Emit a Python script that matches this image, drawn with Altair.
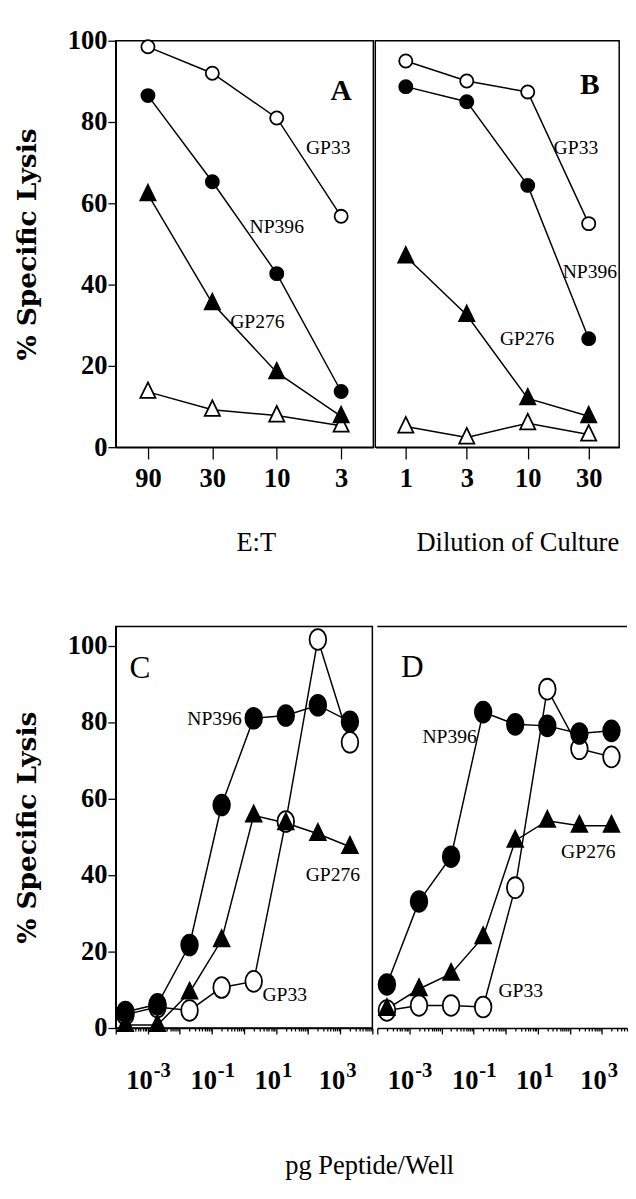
import json
import altair as alt
import pandas as pd

# ---------------- Data ----------------
# Panel A: % specific lysis vs E:T ratio
et_labels = ["90", "30", "10", "3"]
a_gp33 = [98.5, 92.0, 81.0, 56.8]
a_np396 = [86.5, 65.3, 42.7, 13.7]
a_gp276 = [62.2, 35.4, 18.4, 7.6]
a_control = [13.6, 9.2, 7.8, 5.3]

# Panel B: % specific lysis vs dilution of culture
dilution_labels = ["1", "3", "10", "30"]
b_gp33 = [95.0, 90.1, 87.4, 55.0]
b_np396 = [88.7, 85.0, 64.4, 26.7]
b_gp276 = [46.9, 32.5, 12.0, 7.6]
b_control = [5.1, 2.4, 5.9, 3.1]

# Panels C and D: % specific lysis vs pg peptide / well
pg_per_well = [2e-4, 2e-3, 2e-2, 2e-1, 2.0, 20.0, 200.0, 2000.0]
c_gp33 = [3.5, 5.5, 4.6, 10.6, 12.2, 54.0, 101.6, 74.7]
c_np396 = [4.2, 6.2, 21.7, 58.3, 81.0, 81.7, 84.4, 80.1]
c_gp276 = [0.8, 0.8, 9.3, 23.0, 55.6, 53.6, 50.8, 47.4]
d_gp33 = [4.6, 5.9, 5.9, 5.5, 36.7, 88.6, 73.0, 70.9]
d_np396 = [11.4, 33.1, 44.8, 82.6, 79.4, 79.0, 77.0, 77.7]
d_gp276 = [5.0, 10.2, 14.2, 23.8, 49.0, 54.2, 52.9, 52.9]

# Axis tick values / labels
y_ticks = [0, 20, 40, 60, 80, 100]
log_label_values = [1e-3, 1e-1, 1e1, 1e3]
log_label_base = ["10", "10", "10", "10"]
log_label_exponents = ["-3", "-1", "1", "3"]
log_ticks = [m * 10.0 ** e for e in range(-4, 4) for m in range(1, 10)] + [1e4]

# Series annotations (text, x, y) in data units
a_notes = [("GP33", 2.8, 73.5), ("NP396", 2.0, 54.2), ("GP276", 1.7, 30.8)]
b_notes = [("GP33", 2.79, 73.5), ("NP396", 3.02, 43.1), ("GP276", 1.99, 26.7)]
c_notes = [("NP396", 0.12, 80.7), ("GP276", 590.0, 40.1), ("GP33", 18.6, 8.5)]
d_notes = [("NP396", 0.018, 76.0), ("GP276", 380.0, 46.1), ("GP33", 2.96, 9.7)]
panel_letters = {"A": (3.0, 87.5), "B": (3.02, 89.0), "C": (5.7e-4, 94.0), "D": (1.23e-3, 94.4)}

# ---------------- Style ----------------
SERIF = "Liberation Serif"
TITLE_FONT = "DejaVu Serif"
TRI = "M0,-1.25L1,0.8L-1,0.8Z"
ELLIPSE = "M-1,0A1,1.25 0 1,1 1,0A1,1.25 0 1,1 -1,0Z"
MAJOR_TEST = "abs(log(datum.value)/LN10 - round(log(datum.value)/LN10)) < 0.001"
LINE_W = 1.5


def y_axis(show):
    if not show:
        return None
    return alt.Axis(values=y_ticks, tickSize=8, labelPadding=1, labelFont=SERIF,
                    labelFontSize=27, labelFontWeight="bold", title="% Specific Lysis",
                    titleFont=TITLE_FONT, titleFontSize=27, titleFontWeight="bold",
                    titlePadding=26)


def markers(df, xfield, styles):
    layers = []
    for name, shape, fill, size in styles:
        sub = df[df["series"] == name]
        layers.append(
            alt.Chart(sub).mark_point(shape=shape, filled=True, fill=fill, stroke="black",
                                      strokeWidth=1.8, size=size, opacity=1)
            .encode(x=f"{xfield}:Q", y="lysis:Q")
        )
    return layers


def notes_layer(notes, xfield, letter, letter_xy, letter_weight, letter_size):
    ndf = pd.DataFrame({"label": [n[0] for n in notes], xfield: [n[1] for n in notes],
                        "lysis": [n[2] for n in notes]})
    ldf = pd.DataFrame({"label": [letter], xfield: [letter_xy[0]], "lysis": [letter_xy[1]]})
    t1 = alt.Chart(ndf).mark_text(font=SERIF, fontSize=20, color="black").encode(
        x=f"{xfield}:Q", y="lysis:Q", text="label:N")
    t2 = alt.Chart(ldf).mark_text(font=SERIF, fontSize=letter_size, fontWeight=letter_weight,
                                  color="black").encode(x=f"{xfield}:Q", y="lysis:Q", text="label:N")
    return [t1, t2]


def top_panel(cats, series, notes, letter, width, xtitle, title_x, left_axis):
    order = ["Control", "GP33", "NP396", "GP276"]
    rows = [{"series": s, "idx": i, "lysis": v} for s in order for i, v in enumerate(series[s])]
    df = pd.DataFrame(rows)
    xaxis = alt.Axis(values=[0, 1, 2, 3], labelExpr=json.dumps(cats) + "[datum.value]",
                     title=xtitle, tickSize=12, labelPadding=7, labelFont=SERIF,
                     labelFontSize=27, labelFontWeight="bold", labelAngle=0,
                     titleFont=SERIF, titleFontSize=27, titleFontWeight="normal",
                     titleX=title_x, titleY=97, titleBaseline="middle", titleAlign="center")
    x = alt.X("idx:Q", scale=alt.Scale(domain=[-0.5, 3.5], nice=False, zero=False), axis=xaxis)
    y = alt.Y("lysis:Q", scale=alt.Scale(domain=[0, 100], nice=False), axis=y_axis(left_axis))
    lines = alt.Chart(df).mark_line(color="black", strokeWidth=LINE_W).encode(x=x, y=y, detail="series:N")
    styles = [("Control", TRI, "white", 240), ("GP33", "circle", "white", 180),
              ("NP396", "circle", "black", 180), ("GP276", TRI, "black", 240)]
    layers = [lines] + markers(df, "idx", styles) + notes_layer(
        notes, "idx", letter, panel_letters[letter], "bold", 30)
    return alt.layer(*layers).properties(width=width, height=415)


def bottom_panel(series, notes, letter, width, domain_max, left_axis):
    order = ["GP33", "NP396", "GP276"]
    rows = [{"series": s, "pg": p, "lysis": v} for s in order for p, v in zip(pg_per_well, series[s])]
    df = pd.DataFrame(rows)
    ticks = [t for t in log_ticks if t <= domain_max * 1.0001]
    xaxis = alt.Axis(values=ticks, labels=False, title=None,
                     tickSize={"condition": {"test": MAJOR_TEST, "value": 6}, "value": 3})
    x = alt.X("pg:Q", scale=alt.Scale(type="log", domain=[1e-4, domain_max], nice=False), axis=xaxis)
    y = alt.Y("lysis:Q", scale=alt.Scale(domain=[0, 105], nice=False), axis=y_axis(left_axis))
    lines = alt.Chart(df).mark_line(color="black", strokeWidth=LINE_W).encode(x=x, y=y, detail="series:N")
    styles = [("GP33", ELLIPSE, "white", 289), ("NP396", ELLIPSE, "black", 289),
              ("GP276", TRI, "black", 256)]
    lab = pd.DataFrame({"pg": log_label_values, "base": log_label_base, "exp": log_label_exponents})
    lab = lab[lab["pg"] <= domain_max]
    base_txt = alt.Chart(lab).mark_text(font=SERIF, fontSize=27, fontWeight="bold", align="right",
                                        baseline="middle", dx=5, color="black").encode(
        x="pg:Q", y=alt.value(410 + 54), text="base:N")
    exp_txt = alt.Chart(lab).mark_text(font=SERIF, fontSize=21, fontWeight="bold", align="left",
                                       baseline="middle", dx=6, dy=-10, color="black").encode(
        x="pg:Q", y=alt.value(410 + 54), text="exp:N")
    layers = [lines] + markers(df, "pg", styles) + notes_layer(
        notes, "pg", letter, panel_letters[letter], "normal", 32) + [base_txt, exp_txt]
    return alt.layer(*layers).properties(width=width, height=410)


panel_a = top_panel(et_labels, {"GP33": a_gp33, "NP396": a_np396, "GP276": a_gp276, "Control": a_control},
                    a_notes, "A", 263, "E:T", 143, True)
panel_b = top_panel(dilution_labels, {"GP33": b_gp33, "NP396": b_np396, "GP276": b_gp276, "Control": b_control},
                    b_notes, "B", 249, "Dilution of Culture", 145, False)
panel_c = bottom_panel({"GP33": c_gp33, "NP396": c_np396, "GP276": c_gp276}, c_notes, "C", 262, 1e4, True)
d_max = 10 ** (-4 + 255 / 32.75)
panel_d_core = bottom_panel({"GP33": d_gp33, "NP396": d_np396, "GP276": d_gp276}, d_notes, "D", 255, d_max,
                            False)
top_border = alt.Chart(pd.DataFrame({"k": [0]})).mark_rule(color="black", strokeWidth=1.5).encode(
    x=alt.value(0), x2=alt.value(255), y=alt.value(0))
panel_d = alt.layer(panel_d_core, top_border).properties(view=alt.ViewBackground(strokeOpacity=0))

top_row = alt.hconcat(panel_a, panel_b, spacing=0)
bottom_row = alt.hconcat(panel_c, panel_d, spacing=0).properties(
    title=alt.TitleParams("pg Peptide/Well", orient="bottom", anchor="middle", font=SERIF,
                          fontSize=27, fontWeight="normal", color="black", offset=60, dx=50)
)

chart = alt.vconcat(top_row, bottom_row, spacing=70).properties(
    padding={"left": 5, "top": 6, "right": 0, "bottom": 0}
).configure_view(stroke="black", strokeWidth=1.5).configure_axis(
    domainColor="black", tickColor="black", labelColor="black", titleColor="black",
    grid=False, domainWidth=1.5, tickWidth=1.3
).configure_concat(spacing=0)

chart.save("out.html", embed_options={"renderer": "svg", "actions": False})
